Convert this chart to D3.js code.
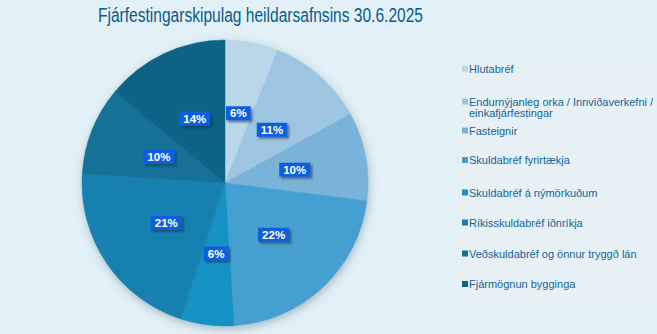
<!DOCTYPE html>
<html><head><meta charset="utf-8">
<script src="https://cdn.jsdelivr.net/npm/d3@7"></script>
<style>
html,body{margin:0;padding:0;background:#e2f1f7;}
svg{display:block;font-family:"Liberation Sans",Arial,sans-serif;}
</style></head>
<body>
<svg id="c" width="657" height="334"></svg>
<script>
const title = "Fjárfestingarskipulag heildarsafnsins 30.6.2025";
const categories = ["Hlutabréf","Endurnýjanleg orka / Innviðaverkefni / einkafjárfestingar","Fasteignir","Skuldabréf fyrirtækja","Skuldabréf á nýmörkuðum","Ríkisskuldabréf iðnríkja","Veðskuldabréf og önnur tryggð lán","Fjármögnun bygginga"];
const legendLines = [["Hlutabréf"],["Endurnýjanleg orka / Innviðaverkefni /","einkafjárfestingar"],["Fasteignir"],["Skuldabréf fyrirtækja"],["Skuldabréf á nýmörkuðum"],["Ríkisskuldabréf iðnríkja"],["Veðskuldabréf og önnur tryggð lán"],["Fjármögnun bygginga"]];
const values = [6,11,10,22,6,21,10,14];
const colors = ["#bad7ea","#9ec6e2","#7ab3d9","#45a0d1","#1791c3","#1580b1","#127199","#0f6385"];

const svg = d3.select("#c");
const defs = svg.append("defs");
const f1 = defs.append("filter").attr("id","pieShadow").attr("x","-20%").attr("y","-20%").attr("width","140%").attr("height","140%");
f1.append("feDropShadow").attr("dx",1).attr("dy",3).attr("stdDeviation",4).attr("flood-color","#30505f").attr("flood-opacity",0.35);
const f2 = defs.append("filter").attr("id","lblShadow").attr("x","-30%").attr("y","-30%").attr("width","160%").attr("height","160%");
f2.append("feDropShadow").attr("dx",2).attr("dy",2).attr("stdDeviation",1).attr("flood-color","#0a2a3a").attr("flood-opacity",0.55);

svg.append("text").attr("x",260.5).attr("y",22).attr("text-anchor","middle")
  .attr("font-size",19.5).attr("fill","#0c5a8c")
  .attr("textLength",325).attr("lengthAdjust","spacingAndGlyphs").text(title);

// legend box
svg.append("rect").attr("x",457).attr("y",62).attr("width",200).attr("height",241).attr("fill","#e7f0f4");

const cx = 225, cy = 183, R = 143;
const pie = d3.pie().sort(null).value(d=>d)(values);
const arc = d3.arc().innerRadius(0).outerRadius(R);
const labelArc = d3.arc().innerRadius(71).outerRadius(71);
const g = svg.append("g").attr("transform",`translate(${cx},${cy})`);
g.append("g").attr("filter","url(#pieShadow)").selectAll("path").data(pie).join("path")
  .attr("d",arc).attr("fill",(d,i)=>colors[i]).attr("stroke",(d,i)=>colors[i]).attr("stroke-width",0.5);

const lg = g.selectAll("g.lbl").data(pie).join("g").attr("class","lbl")
  .attr("transform",d=>`translate(${labelArc.centroid(d)})`);
lg.each(function(d){
  const s = d3.select(this);
  const t = s.append("text").attr("text-anchor","middle").attr("dy","0.36em")
    .attr("font-size",11.5).attr("font-weight","bold").attr("fill","#ffffff").text(d.data+"%");
  const w = t.node().getComputedTextLength();
  s.insert("rect","text").attr("x",-w/2-4).attr("y",-7).attr("width",w+8).attr("height",14)
    .attr("fill","#0d5fe0").attr("filter","url(#lblShadow)");
});

const legendY = [68.5,101.5,130.5,160,192.5,222.5,253.5,284];
const leg = svg.append("g");
legendLines.forEach((lines,i)=>{
  leg.append("rect").attr("x",462).attr("y",legendY[i]-3).attr("width",6).attr("height",6).attr("fill",colors[i]);
  lines.forEach((ln,j)=>{
    leg.append("text").attr("x",469).attr("y",legendY[i]+4+j*11).attr("font-size",11)
      .attr("fill","#14649a").text(ln);
  });
});
</script>
</body></html>
